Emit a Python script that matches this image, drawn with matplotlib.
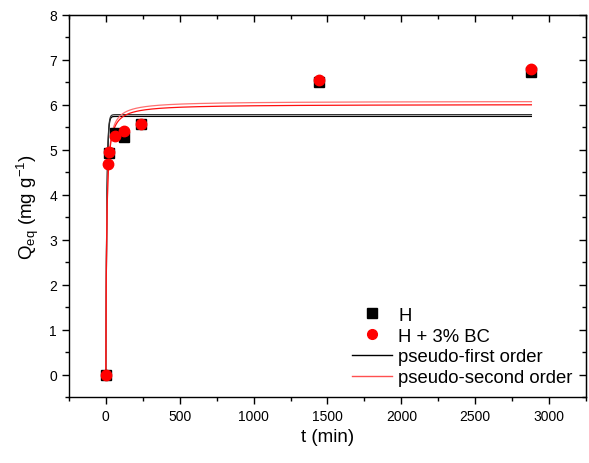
import numpy as np
import matplotlib
matplotlib.use("Agg")
import matplotlib.pyplot as plt
from matplotlib.ticker import MultipleLocator

plt.rcParams['font.family'] = ['Liberation Sans', 'DejaVu Sans']
plt.rcParams['mathtext.fontset'] = 'custom'
plt.rcParams['mathtext.rm'] = 'Liberation Sans'
plt.rcParams['mathtext.it'] = 'Liberation Sans:italic'

# Experimental data
t_H = [0, 20, 60, 120, 240, 1440, 2880]
q_H = [0.0, 4.93, 5.38, 5.28, 5.57, 6.50, 6.73]
e_H = [0.04, 0.06, 0.05, 0.06, 0.05, 0.05, 0.06]

t_BC = [0, 15, 20, 60, 120, 240, 1440, 2880]
q_BC = [0.0, 4.69, 4.94, 5.30, 5.41, 5.57, 6.56, 6.80]
e_BC = [0.04, 0.05, 0.05, 0.05, 0.05, 0.05, 0.05, 0.07]

# Fitted kinetic model parameters (qe in mg/g, k in 1/min or g/(mg min))
pfo_qe = [5.74, 5.78]
pfo_k = [0.15, 0.15]
pso_qe = [6.08, 6.01]
pso_k = [0.030, 0.030]
pso_colors = ['#ff7070', '#ff1010']
pfo_colors = ['#000000', '#333333']

t_fit = np.linspace(0, 2880, 3000)

fig = plt.figure(figsize=(5.89, 4.64), dpi=100)
ax = fig.add_axes([0.117, 0.142, 0.878, 0.824])

for qe, k, c in zip(pfo_qe, pfo_k, pfo_colors):
    ax.plot(t_fit, qe * (1 - np.exp(-k * t_fit)), color=c, lw=0.9, zorder=2)
for qe, k, c in zip(pso_qe, pso_k, pso_colors):
    ax.plot(t_fit, qe**2 * k * t_fit / (1 + qe * k * t_fit), color=c, lw=0.9, zorder=2)

ax.errorbar(t_H, q_H, yerr=e_H, fmt='s', color='black', ms=7, capsize=2,
            elinewidth=0.8, capthick=0.8, zorder=3)
ax.errorbar(t_BC, q_BC, yerr=e_BC, fmt='o', color='red', ecolor='black', ms=7.5,
            capsize=2, elinewidth=0.8, capthick=0.8, zorder=4)

# legend handles
h1 = ax.plot([], [], 's', color='black', ms=6.5)[0]
h2 = ax.plot([], [], 'o', color='red', ms=7)[0]
h3 = ax.plot([], [], '-', color='black', lw=1.0)[0]
h4 = ax.plot([], [], '-', color='#ff5050', lw=1.0)[0]
ax.legend([h1, h2, h3, h4], ['H', 'H + 3% BC', 'pseudo-first order', 'pseudo-second order'],
          loc='lower right', bbox_to_anchor=(0.995, 0.0), frameon=False, fontsize=13.3,
          handlelength=2.2, handletextpad=0.3, labelspacing=0.2, borderaxespad=0.2)

ax.set_xlim(-250, 3250)
ax.set_ylim(-0.5, 8)
ax.xaxis.set_major_locator(MultipleLocator(500))
ax.xaxis.set_minor_locator(MultipleLocator(250))
ax.yaxis.set_major_locator(MultipleLocator(1))
ax.yaxis.set_minor_locator(MultipleLocator(0.5))

ax.tick_params(which='both', direction='out', top=False, right=False, labelsize=10, width=1.0)
ax.tick_params(which='major', length=5)
ax.tick_params(which='minor', length=3)
for s in ax.spines.values():
    s.set_linewidth(1.0)

# inward ticks on top and right
axt = ax.secondary_xaxis('top')
axt.xaxis.set_major_locator(MultipleLocator(500))
axt.xaxis.set_minor_locator(MultipleLocator(250))
axt.tick_params(which='both', direction='in', labeltop=False, width=1.0)
axt.tick_params(which='major', length=5)
axt.tick_params(which='minor', length=3)
axr = ax.secondary_yaxis('right')
axr.yaxis.set_major_locator(MultipleLocator(1))
axr.yaxis.set_minor_locator(MultipleLocator(0.5))
axr.tick_params(which='both', direction='in', labelright=False, width=1.0)
axr.tick_params(which='major', length=5)
axr.tick_params(which='minor', length=3)

ax.set_xlabel('t (min)', fontsize=13.5, labelpad=4)
ax.set_ylabel(r'Q$_{\mathregular{eq}}$ (mg g$^{\mathregular{-1}}$)', fontsize=13.5, labelpad=6)

fig.savefig('out.png', dpi=100)
